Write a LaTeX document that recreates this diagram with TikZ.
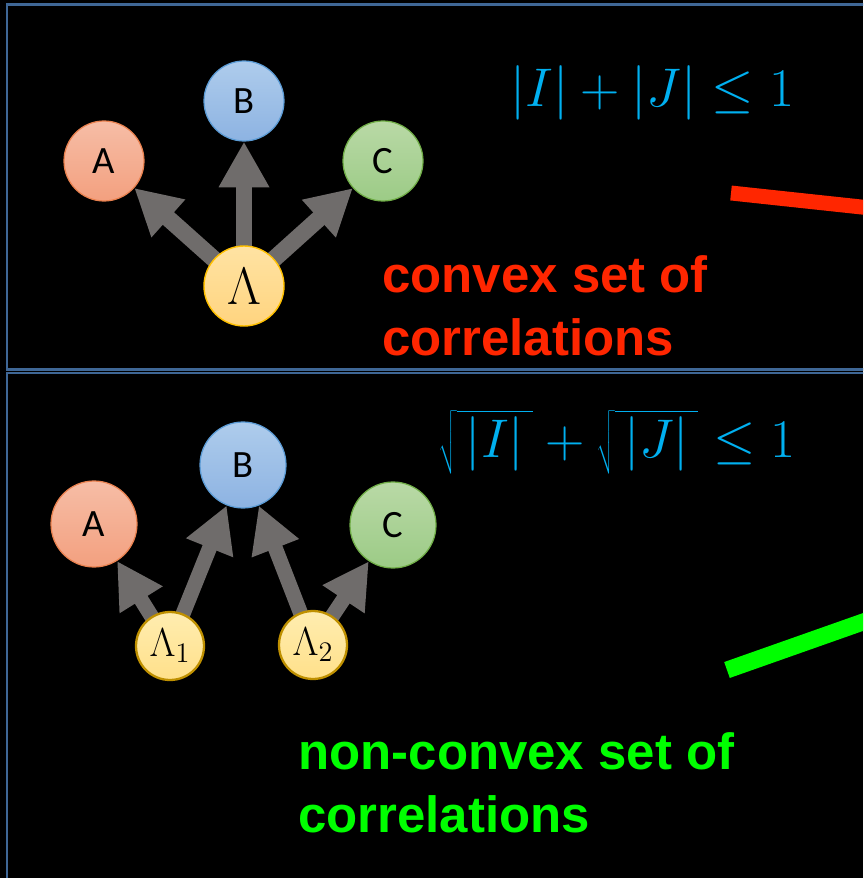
\RequirePackage{fix-cm}
\documentclass[tikz,border=0pt]{standalone}
\usepackage{fontspec}
\newfontfamily\nodefont{Carlito}
\newfontfamily\labelfont{Liberation Sans}
\usepackage{tikz}
\usetikzlibrary{arrows.meta,positioning,backgrounds}
\definecolor{framec}{HTML}{3F6796}
\definecolor{arrowgray}{HTML}{6F6C6B}
\definecolor{eqcyan}{HTML}{00B0F0}
\definecolor{convexred}{HTML}{FF2600}
\definecolor{nonconvexgreen}{HTML}{00FF00}
\definecolor{redL}{HTML}{F6BDA6}\definecolor{redD}{HTML}{F3A07F}\definecolor{redE}{HTML}{E9814F}
\definecolor{blueL}{HTML}{AECCEC}\definecolor{blueD}{HTML}{8DB3E2}\definecolor{blueE}{HTML}{5B9BD5}
\definecolor{greenL}{HTML}{B9D9A6}\definecolor{greenD}{HTML}{9CCB86}\definecolor{greenE}{HTML}{70AD47}
\definecolor{goldL}{HTML}{FFE3A3}\definecolor{goldD}{HTML}{FFD47F}\definecolor{goldE}{HTML}{FFC000}
\definecolor{paleL}{HTML}{FFEDB0}\definecolor{paleD}{HTML}{FFE08A}\definecolor{paleE}{HTML}{BF9000}
\tikzset{
  frame/.style={draw=framec,line width=1.4pt},
  var/.style={circle,minimum size=1.6cm,inner sep=0pt,line width=0.7pt,
              font=\nodefont\fontsize{22}{24}\selectfont},
  varA/.style={var,draw=redE,top color=redL,bottom color=redD},
  varB/.style={var,draw=blueE,top color=blueL,bottom color=blueD},
  varC/.style={var,draw=greenE,top color=greenL,bottom color=greenD},
  srcbig/.style={circle,minimum size=1.6cm,inner sep=0pt,line width=0.8pt,
                 draw=goldE,top color=goldL,bottom color=goldD,
                 font=\fontsize{30}{32}\selectfont},
  srcsmall/.style={circle,minimum size=1.36cm,inner sep=0pt,line width=1.3pt,
                   draw=paleE,top color=paleL,bottom color=paleD,
                   font=\fontsize{23}{25}\selectfont},
  cause/.style={draw=arrowgray,line width=9.6pt,-{Triangle[width=27pt,length=26pt]}},
  thincause/.style={cause,line width=8.5pt},
  eq/.style={inner sep=0pt,text=eqcyan,font=\fontsize{31}{36}\selectfont},
  verdict/.style={inner sep=0pt,align=left,font=\labelfont\bfseries\fontsize{29}{35.7}\selectfont},
  boundary/.style={line cap=butt},
}
\begin{document}
\begin{tikzpicture}[x=0.02cm,y=-0.02cm]
  \useasboundingbox (0,0) rectangle (863,878);
  \begin{scope}[on background layer]
    \fill[black] (0,0) rectangle (863,878);
  \end{scope}
  \clip (0,0) rectangle (863,878);
  % the two panels
  \draw[frame] (7,4.5) rectangle (880,369.5);
  \draw[frame] (7,372.8) rectangle (880,890);

  % upper panel: one common source
  \node[varA] (a1) at (104,161) {A};
  \node[varB] (b1) at (244,101) {B};
  \node[varC] (c1) at (383,161) {C};
  \node[srcbig] (lam) at (244,286) {$\Lambda$};
  \begin{scope}[on background layer]
    \foreach \t in {a1,b1,c1}
      \draw[cause] (lam.center) -- (\t);
  \end{scope}
  \node[eq,anchor=base west] (ineq1) at (510,107) {$|I| + |J| \leq 1$};
  \draw[boundary,draw=convexred,line width=8.5pt] (731,193) -- (880,209);
  \node[verdict,text=convexred,anchor=base west] (convex) at (382,355)
    {convex set of\\correlations};

  % lower panel: two independent sources
  \node[varA,minimum size=1.72cm] (a2) at (94,524) {A};
  \node[varB,minimum size=1.72cm] (b2) at (243,465) {B};
  \node[varC,minimum size=1.72cm] (c2) at (393,525) {C};
  \node[srcsmall] (lam1) at (170,646) {$\Lambda_1$};
  \node[srcsmall] (lam2) at (313,645) {$\Lambda_2$};
  \begin{scope}[on background layer]
    \draw[thincause] (lam1.center) -- (a2);
    \draw[thincause] (lam1.center) -- (b2);
    \draw[thincause] (lam2.center) -- (b2);
    \draw[thincause] (lam2.center) -- (c2);
  \end{scope}
  \node[eq,anchor=base west] (ineq2) at (438,457)
    {$\sqrt{\,|I|\,} + \sqrt{\,|J|\,} \leq 1$};
  \draw[boundary,draw=nonconvexgreen,line width=9.6pt] (727,670) -- (880,616);
  \node[verdict,text=nonconvexgreen,anchor=base west] (nonconvex) at (298,832)
    {non-convex set of\\correlations};
\end{tikzpicture}
\end{document}
